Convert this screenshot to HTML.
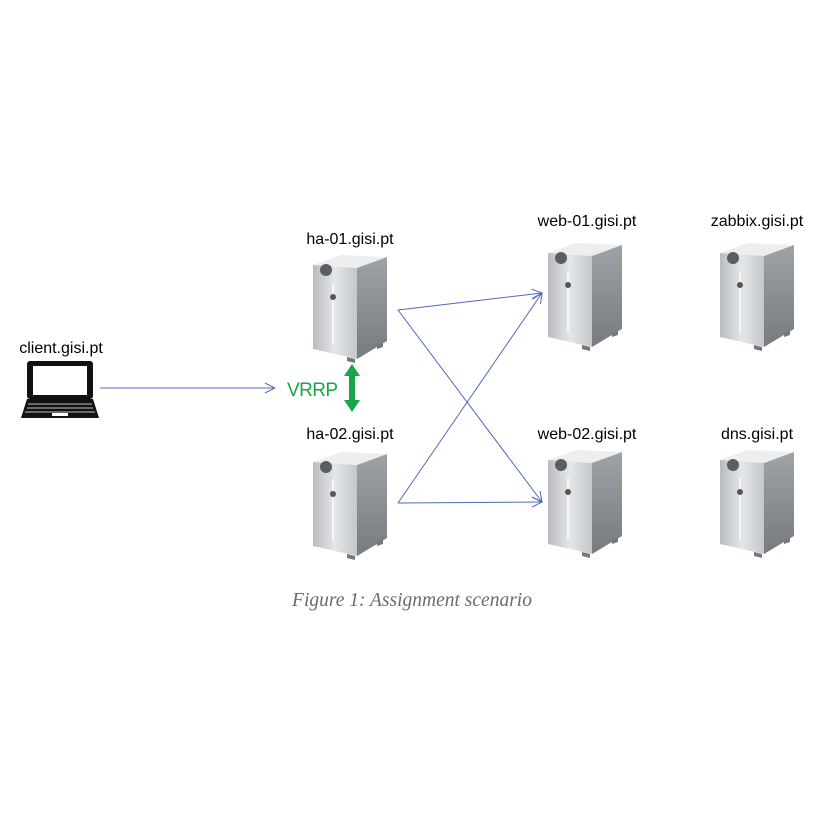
<!DOCTYPE html>
<html><head><style>
body{margin:0;background:#fff;}
svg{display:block}
text{font-family:"Liberation Sans",sans-serif;}
</style></head><body>
<svg width="818" height="818" viewBox="0 0 818 818" xmlns="http://www.w3.org/2000/svg">
<defs>
<linearGradient id="fr" x1="0" y1="0" x2="1" y2="0">
<stop offset="0" stop-color="#b9bcbf"/><stop offset="0.5" stop-color="#e4e6e8"/><stop offset="1" stop-color="#c4c7ca"/>
</linearGradient>
<linearGradient id="sd" x1="0" y1="0" x2="0" y2="1">
<stop offset="0" stop-color="#9ea3a7"/><stop offset="1" stop-color="#767b80"/>
</linearGradient>
<g id="srv">
<polygon points="2,12 30,2 76,4 46,15" fill="#eceeef"/>
<polygon points="2,12 46,15 46,106 2,96" fill="url(#fr)"/>
<polygon points="46,15 76,4 76,88 46,106" fill="url(#sd)"/>
<circle cx="15" cy="17" r="6" fill="#5a5e62"/>
<line x1="22" y1="30" x2="22" y2="92" stroke="#f4f5f6" stroke-width="2"/>
<circle cx="22" cy="44" r="3" fill="#555"/>
<polygon points="36,104 44,106 44,110 36,108" fill="#777"/>
<polygon points="66,92 72,90 72,94 66,96" fill="#777"/>
</g>
<marker id="ah" markerWidth="12" markerHeight="12" refX="11" refY="6" orient="auto" markerUnits="userSpaceOnUse">
<path d="M1,1 L11,6 L1,11" fill="none" stroke="#5068b8" stroke-width="1"/>
</marker>
</defs>
<use href="#srv" x="311" y="253"/>
<use href="#srv" x="311" y="450"/>
<use href="#srv" x="546" y="241"/>
<use href="#srv" x="546" y="448"/>
<use href="#srv" x="718" y="241"/>
<use href="#srv" x="718" y="448"/>

<g stroke="#5068b8" stroke-width="1" fill="none">
<line x1="100" y1="388" x2="275" y2="388" marker-end="url(#ah)"/>
<line x1="398" y1="310" x2="542" y2="293" marker-end="url(#ah)"/>
<line x1="398" y1="310" x2="542" y2="502" marker-end="url(#ah)"/>
<line x1="398" y1="503" x2="542" y2="293" marker-end="url(#ah)"/>
<line x1="398" y1="503" x2="542" y2="502" marker-end="url(#ah)"/>
</g>

<rect x="27" y="361" width="66" height="38" rx="3" fill="#111"/>
<rect x="33" y="366" width="54" height="29" fill="#fff"/>
<polygon points="27,399 93,399 99,418 21,418" fill="#111"/>
<g stroke="#fff" stroke-width="0.8">
<line x1="28" y1="404" x2="92" y2="404"/><line x1="27" y1="408" x2="93" y2="408"/><line x1="25" y1="412" x2="95" y2="412"/>
</g>
<rect x="52" y="413" width="16" height="3" fill="#fff"/>

<polygon points="352,364 360,376 355,376 355,400 360,400 352,412 344,400 349,400 349,376 344,376" fill="#19a64a"/>
<text x="287" y="396" font-size="19" fill="#19a64a" textLength="51">VRRP</text>

<g font-size="16" fill="#000" text-anchor="middle">
<text x="61" y="353">client.gisi.pt</text>
<text x="350" y="244">ha-01.gisi.pt</text>
<text x="350" y="439">ha-02.gisi.pt</text>
<text x="587" y="226">web-01.gisi.pt</text>
<text x="587" y="439">web-02.gisi.pt</text>
<text x="757" y="226">zabbix.gisi.pt</text>
<text x="757" y="439">dns.gisi.pt</text>
</g>
<text x="412" y="606" font-size="19.5" font-style="italic" fill="#6b6b6b" text-anchor="middle" style="font-family:'Liberation Serif',serif">Figure 1: Assignment scenario</text>
</svg>
</body></html>
